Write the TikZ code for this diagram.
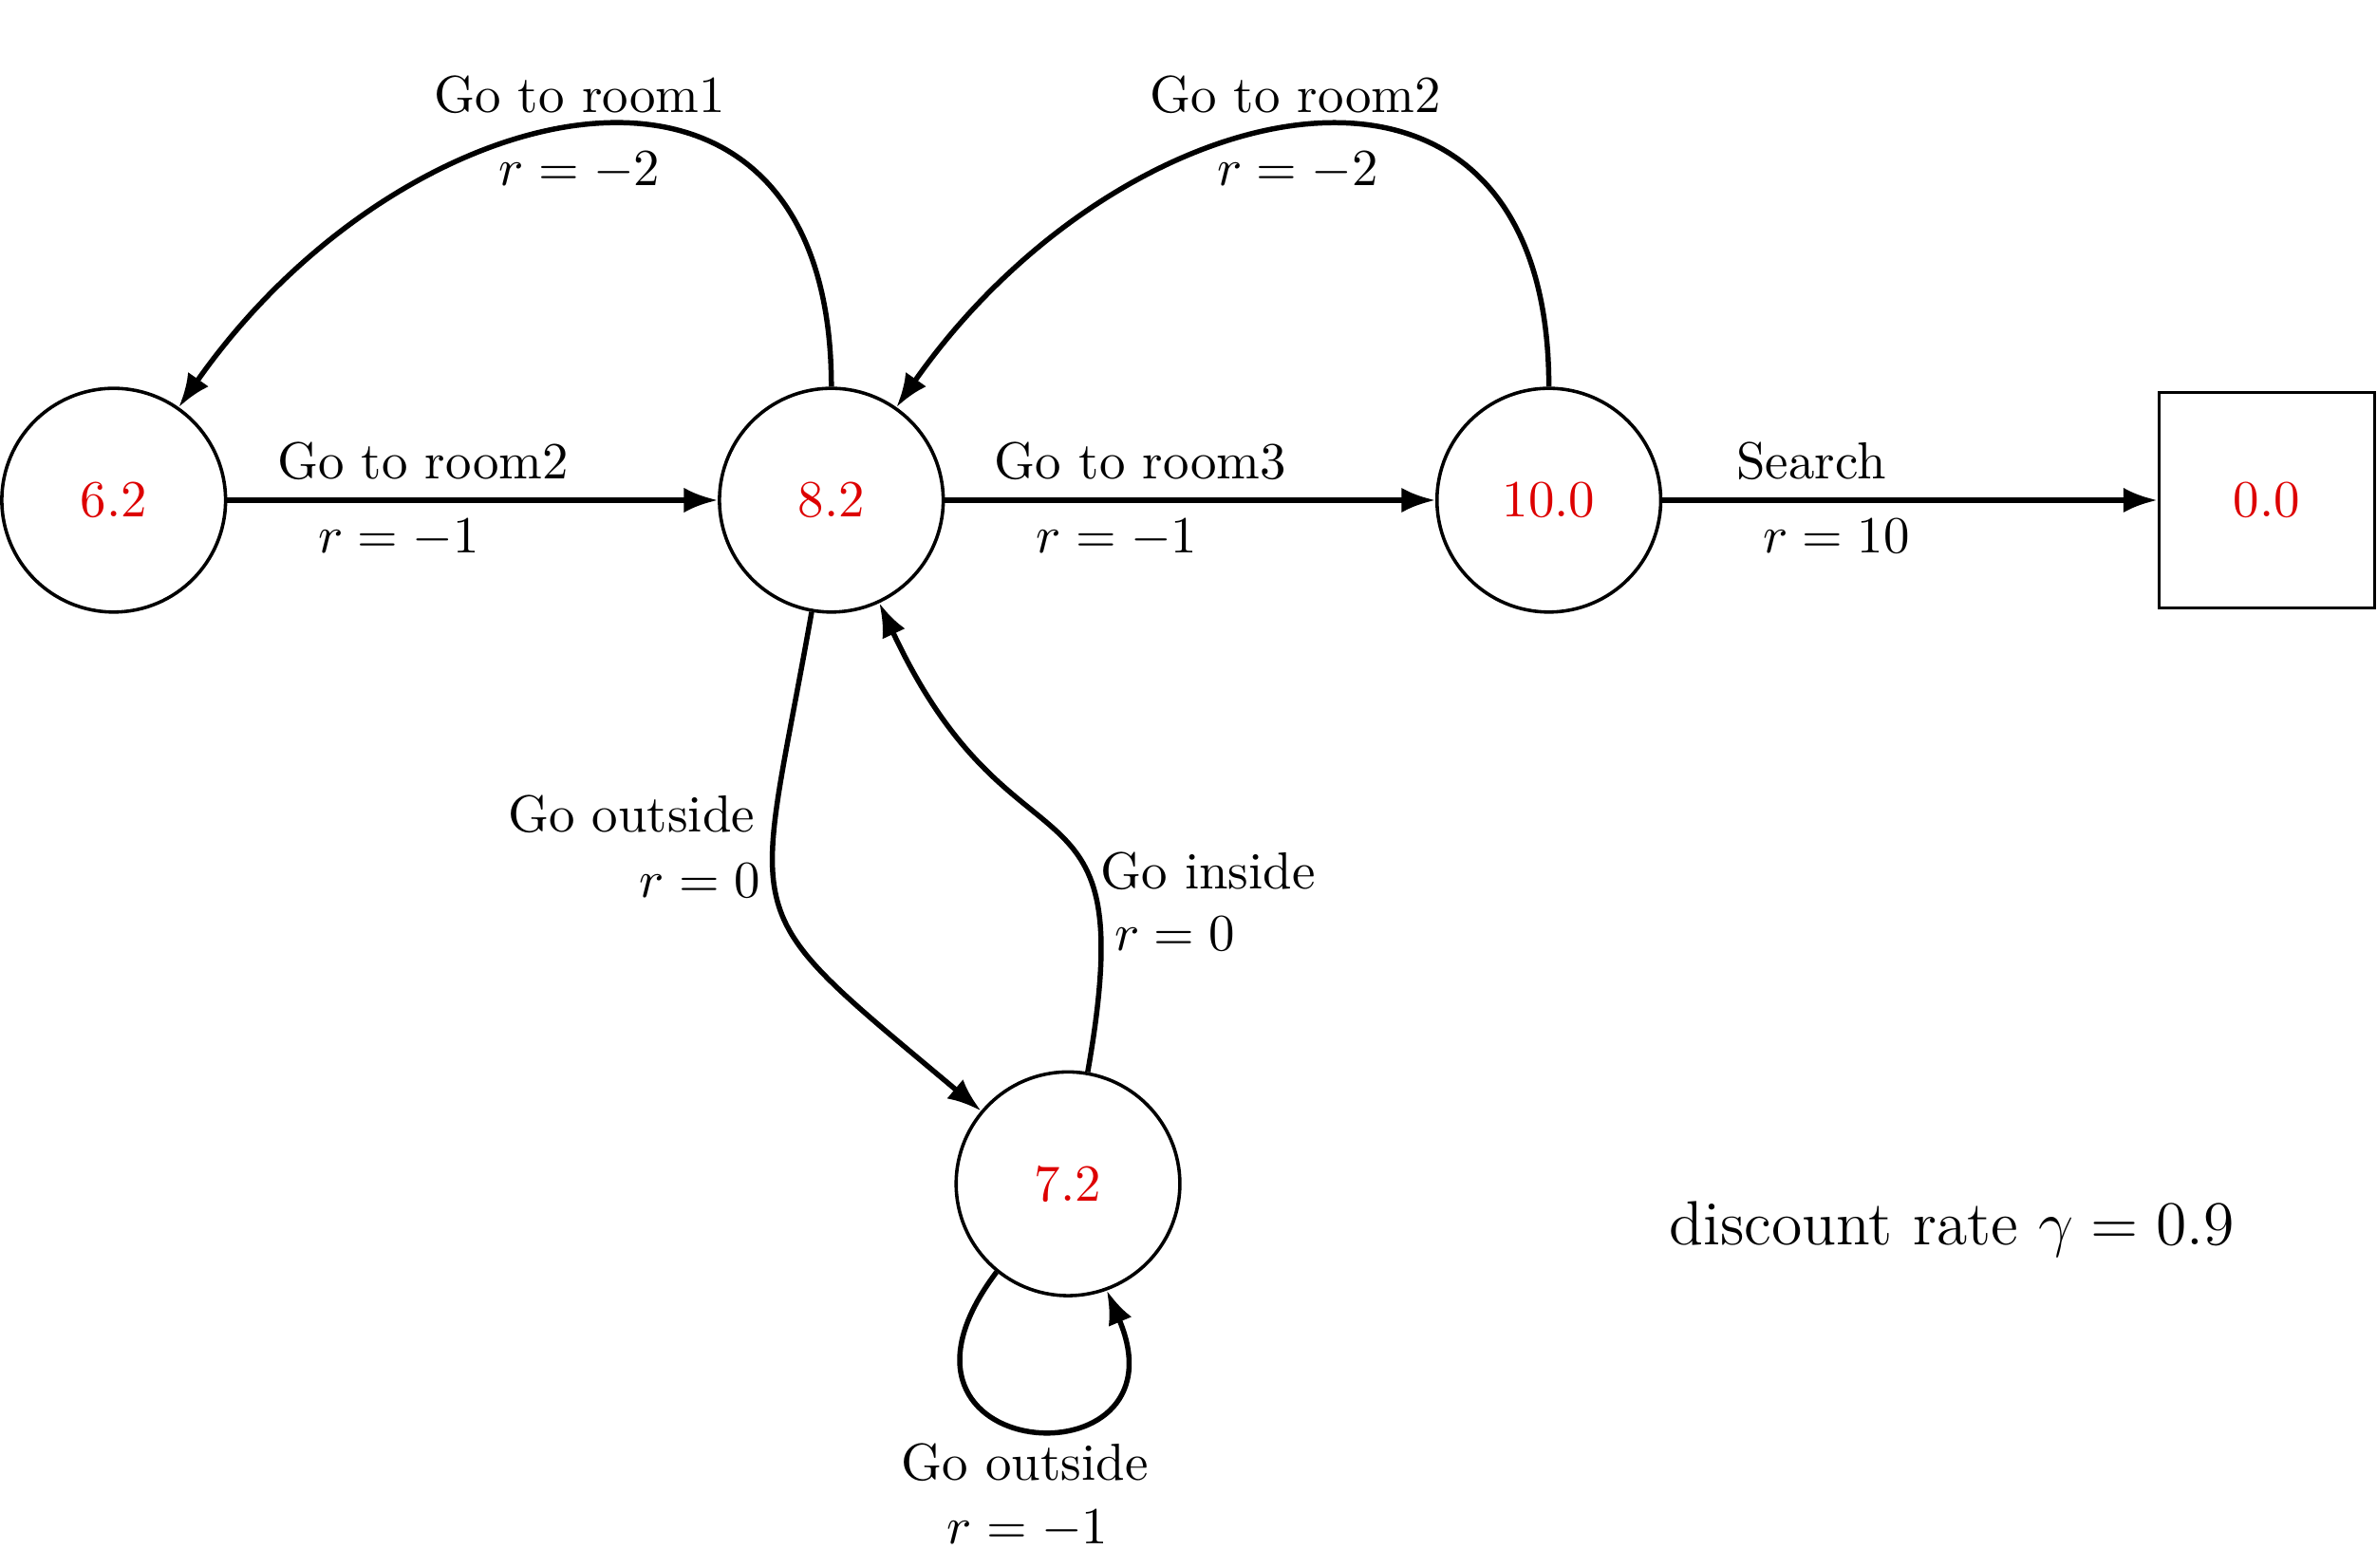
\documentclass[tikz,border=0pt]{standalone}
\usetikzlibrary{arrows.meta}
\definecolor{valred}{RGB}{221,0,0}
\begin{document}
\begin{tikzpicture}[x=0.291pt,y=0.291pt,
  state/.style={circle,draw,line width=0.65pt,minimum size=42.95pt,inner sep=0pt,text=valred},
  term/.style={rectangle,draw,line width=0.65pt,minimum size=41.4pt,inner sep=0pt,text=valred},
  trans/.style={line width=1pt,-{Latex[length=6.5pt,width=4.8pt]}},
  lbl/.style={inner sep=0pt,anchor=base west}]
\useasboundingbox (0,0) rectangle (1568,1034);
% states
\node[state] (A) at (75,704) {6.2};
\node[state] (B) at (548.4,704) {8.2};
\node[state] (C) at (1021.7,704) {10.0};
\node[term]  (D) at (1495.3,704) {0.0};
\node[state] (E) at (704.5,253) {7.2};
% transitions
\draw[trans] (A) -- (B);
\draw[trans] (B) -- (C);
\draw[trans] (C) -- (D);
\draw[trans] (B) to[out=90,in=55,looseness=1.55] (A);
\draw[trans] (C) to[out=90,in=55,looseness=1.55] (B);
\draw[trans] (B) to[out=260,in=140,looseness=1.6] (E);
\draw[trans] (E) to[out=80,in=295,looseness=1.6] (B);
\draw[trans] (E.231) .. controls +(233:160) and +(293:142) .. (E.290);
% labels
\node[lbl] (l1a) at (285.6,959.7) {Go to room1};
\node[lbl] (l1b) at (328.5,911.7) {$r=-2$};
\node[lbl] (l2a) at (757.7,959.7) {Go to room2};
\node[lbl] (l2b) at (802.3,911.7) {$r=-2$};
\node[lbl] (l3a) at (182.2,718.2) {Go to room2};
\node[lbl] (l3b) at (209.3,669.3) {$r=-1$};
\node[lbl] (l4a) at (655.5,718.2) {Go to room3};
\node[lbl] (l4b) at (683,669.3) {$r=-1$};
\node[lbl] (l5a) at (1144.8,718.1) {Search};
\node[lbl] (l5b) at (1162.3,669.2) {$r=10$};
\node[lbl] (l6a) at (334.4,485.2) {Go outside};
\node[lbl] (l6b) at (421.2,442) {$r=0$};
\node[lbl] (l7a) at (725.3,447.3) {Go inside};
\node[lbl] (l7b) at (734.7,406.8) {$r=0$};
\node[lbl] (l8a) at (594,57.5) {Go outside};
\node[lbl] (l8b) at (624.1,15.5) {$r=-1$};
\node[lbl] (gam) at (1100.5,213) {\large discount rate $\gamma=0.9$};
\end{tikzpicture}
\end{document}
